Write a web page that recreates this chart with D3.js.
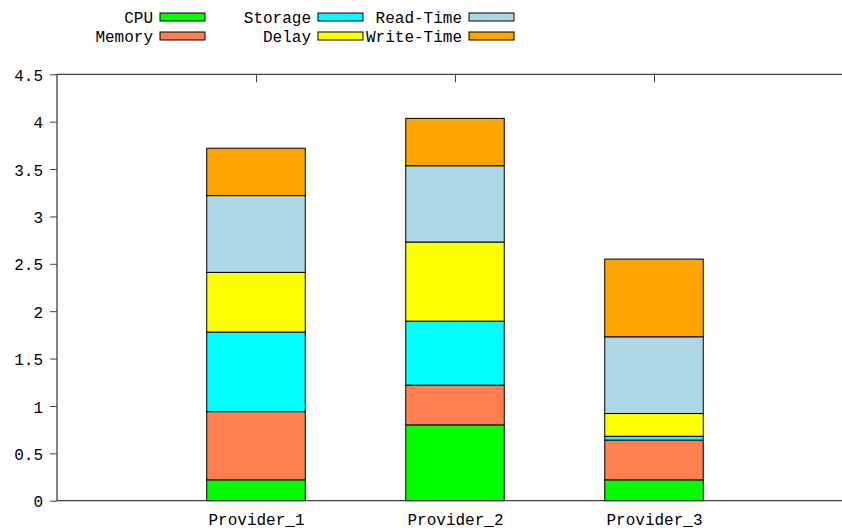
<!DOCTYPE html>
<html><head><meta charset="utf-8">
<script src="https://cdn.jsdelivr.net/npm/d3@7/dist/d3.min.js"></script>
<style>body{margin:0;background:#fff}svg{display:block}text{font-family:"Liberation Mono",monospace;font-size:16px;fill:#000}</style>
</head><body><svg id="c" width="842" height="532"></svg>
<script>
const categories = ["Provider_1","Provider_2","Provider_3"];
const seriesNames = ["CPU","Memory","Storage","Delay","Read-Time","Write-Time"];
const cpu       = [0.22, 0.80, 0.22];
const memory    = [0.72, 0.42, 0.42];
const storage   = [0.84, 0.675, 0.04];
const delay     = [0.63, 0.835, 0.24];
const readTime  = [0.81, 0.805, 0.81];
const writeTime = [0.50, 0.50, 0.82];
const yTicks = [0,0.5,1,1.5,2,2.5,3,3.5,4,4.5];
const yTickLabels = ["0","0.5","1","1.5","2","2.5","3","3.5","4","4.5"];
const colors = ["#00ff00","#ff7f50","#00ffff","#ffff00","#add8e6","#ffa500"];

const seriesVals = [cpu,memory,storage,delay,readTime,writeTime];
const table = categories.map((c,i)=>{const o={cat:c};seriesNames.forEach((s,j)=>o[s]=seriesVals[j][i]);return o;});
const stack = d3.stack().keys(seriesNames)(table);

const svg = d3.select("#c");
const L=57, T=74.3, B=500.7, R=853;
const y = d3.scaleLinear().domain([0,4.5]).range([B,T]);
const xi = d3.scaleLinear().domain([0,4]).range([L,R]);
const x = c => xi(categories.indexOf(c)+1);
const bw = xi(0.495)-xi(0);
const axisCol="#404040";

// bars
stack.forEach((layer,k)=>{
  svg.append("g").selectAll("rect").data(layer).join("rect")
    .attr("x",d=>x(d.data.cat)-bw/2).attr("width",bw)
    .attr("y",d=>y(d[1])).attr("height",d=>y(d[0])-y(d[1]))
    .attr("fill",colors[k]).attr("stroke","#000").attr("stroke-width",1);
});

// y axis (outward ticks)
const ya = svg.append("g").attr("transform",`translate(${L},0)`)
  .call(d3.axisLeft(y).tickValues(yTicks).tickFormat((d,i)=>yTickLabels[i]).tickSize(7).tickPadding(7));
ya.select(".domain").remove();
ya.selectAll("line").attr("stroke",axisCol);
ya.selectAll("text").attr("font-family","Liberation Mono").attr("font-size",16).attr("fill","#000").attr("dy","0.38em");

// top axis (inward ticks)
const ta = svg.append("g").attr("transform",`translate(0,${T})`)
  .call(d3.axisBottom(xi).tickValues([1,2,3]).tickFormat("").tickSize(8));
ta.select(".domain").remove();
ta.selectAll("line").attr("stroke",axisCol);

// bottom labels
const ba = svg.append("g").attr("transform",`translate(0,${B})`)
  .call(d3.axisBottom(xi).tickValues([1,2,3]).tickFormat(d=>categories[d-1]).tickSize(0).tickPadding(13));
ba.select(".domain").remove();
ba.selectAll("text").attr("font-family","Liberation Mono").attr("font-size",16).attr("fill","#000");

// border lines
svg.append("line").attr("x1",L).attr("x2",L).attr("y1",T).attr("y2",B).attr("stroke",axisCol).attr("stroke-width",1.3);
svg.append("line").attr("x1",L).attr("x2",842).attr("y1",T).attr("y2",T).attr("stroke",axisCol).attr("stroke-width",1.3);
svg.append("line").attr("x1",L).attr("x2",842).attr("y1",B).attr("y2",B).attr("stroke",axisCol).attr("stroke-width",1.3);

// legend
const colX=[153,311,462], rowY=[17,36];
seriesNames.forEach((s,i)=>{
  const col=Math.floor(i/2), row=i%2;
  const g=svg.append("g");
  g.append("text").attr("x",colX[col]).attr("y",rowY[row]).attr("dy","0.35em").attr("text-anchor","end").text(s);
  g.append("rect").attr("x",colX[col]+7).attr("y",rowY[row]-4).attr("width",45).attr("height",8)
    .attr("fill",colors[i]).attr("stroke","#000").attr("stroke-width",1);
});
</script></body></html>
